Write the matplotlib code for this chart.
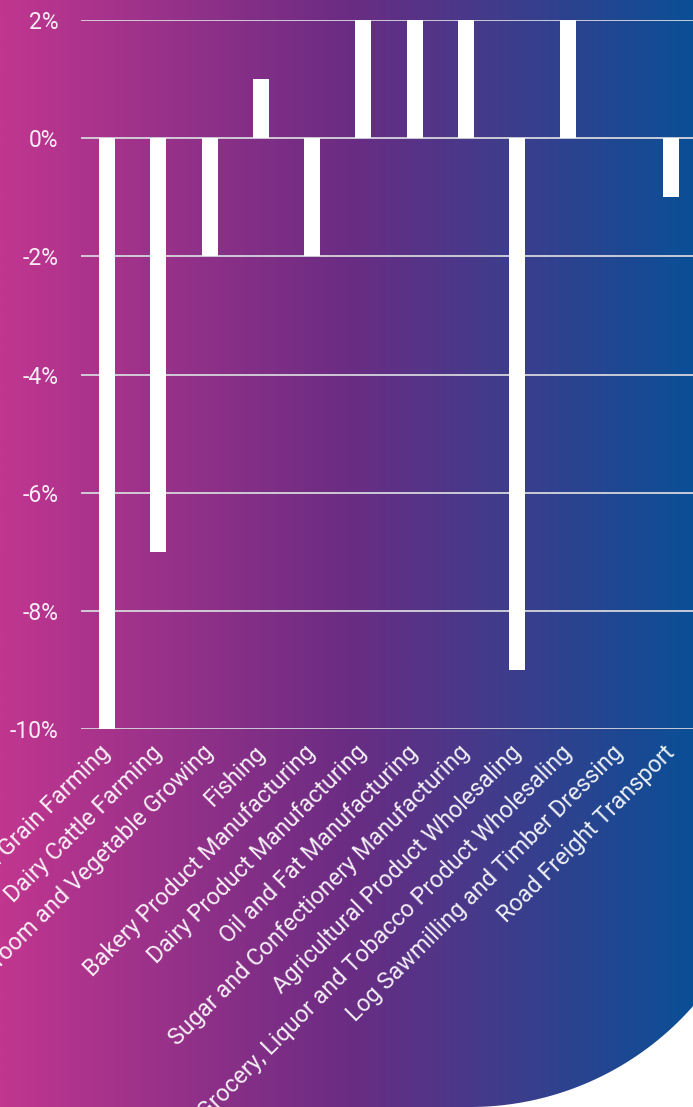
import numpy as np
import matplotlib.pyplot as plt
from matplotlib.colors import LinearSegmentedColormap
from matplotlib.patches import PathPatch
from matplotlib.path import Path
from matplotlib.ticker import FuncFormatter
from matplotlib.transforms import ScaledTranslation

# Change in employment by industry (%)
industries = [
    "Sheep, Beef Cattle and Grain Farming",
    "Dairy Cattle Farming",
    "Mushroom and Vegetable Growing",
    "Fishing",
    "Bakery Product Manufacturing",
    "Dairy Product Manufacturing",
    "Oil and Fat Manufacturing",
    "Sugar and Confectionery Manufacturing",
    "Agricultural Product Wholesaling",
    "Grocery, Liquor and Tobacco Product Wholesaling",
    "Log Sawmilling and Timber Dressing",
    "Road Freight Transport",
]
change_pct = [-10, -7, -2, 1, -2, 2, 2, 2, -9, 2, 0, -1]
y_ticks = [-10, -8, -6, -4, -2, 0, 2]

W, H = 693, 1107
fig = plt.figure(figsize=(W / 100, H / 100), dpi=100)
fig.patch.set_facecolor("white")

# gradient backdrop with a rounded bottom-right corner
bg = fig.add_axes([0, 0, 1, 1])
bg.set_axis_off()
bg.set_xlim(0, W)
bg.set_ylim(0, H)
cmap = LinearSegmentedColormap.from_list("bg", ["#c1368f", "#6b2c83", "#0a4f96"])
grad = np.linspace(0, 1, 512).reshape(1, -1)
im = bg.imshow(grad, cmap=cmap, aspect="auto", extent=[0, W, 0, H], interpolation="bilinear")

cx, cy, r = 470, 297, 297
theta = np.radians(np.linspace(-90, -41.3, 60))
arc = np.column_stack([cx + r * np.cos(theta), cy + r * np.sin(theta)])
verts = np.vstack([[[0, 0]], arc, [[W, H], [0, H], [0, 0]]])
codes = [Path.MOVETO] + [Path.LINETO] * (len(verts) - 2) + [Path.CLOSEPOLY]
clip = PathPatch(Path(verts, codes), transform=bg.transData, facecolor="none", edgecolor="none")
bg.add_patch(clip)
im.set_clip_path(clip)

# bar chart
ax = fig.add_axes([81.4 / W, 1 - 729 / H, 615.2 / W, 709 / H])
ax.patch.set_alpha(0)
x = np.arange(len(industries))
ax.bar(x, change_pct, width=0.31, color="white", zorder=3)

ax.set_xlim(-0.5, len(industries) - 0.5)
ax.set_ylim(-10, 2)
ax.set_yticks(y_ticks)
ax.yaxis.set_major_formatter(FuncFormatter(lambda v, p: f"{v:.0f}%"))
ax.grid(axis="y", color="#d6d6dc", linewidth=1.3, zorder=1)
ax.set_axisbelow(True)
for s in ax.spines.values():
    s.set_visible(False)

ax.tick_params(axis="y", length=0, pad=16.5, labelcolor="white", labelsize=16.5)
ax.tick_params(axis="x", length=0, pad=10, labelcolor="white", labelsize=16.8)
ax.set_xticks(x)
ax.set_xticklabels(industries, rotation=45, ha="right", va="top", rotation_mode="anchor")
shift = ScaledTranslation(-8 / 100, 2 / 100, fig.dpi_scale_trans)
for lbl in ax.get_xticklabels():
    lbl.set_transform(lbl.get_transform() + shift)
for lbl in ax.get_xticklabels() + ax.get_yticklabels():
    lbl.set_family("Roboto")
    lbl.set_fontweight("normal")
    lbl.set_alpha(0.92)

fig.savefig("out.png", dpi=100)
